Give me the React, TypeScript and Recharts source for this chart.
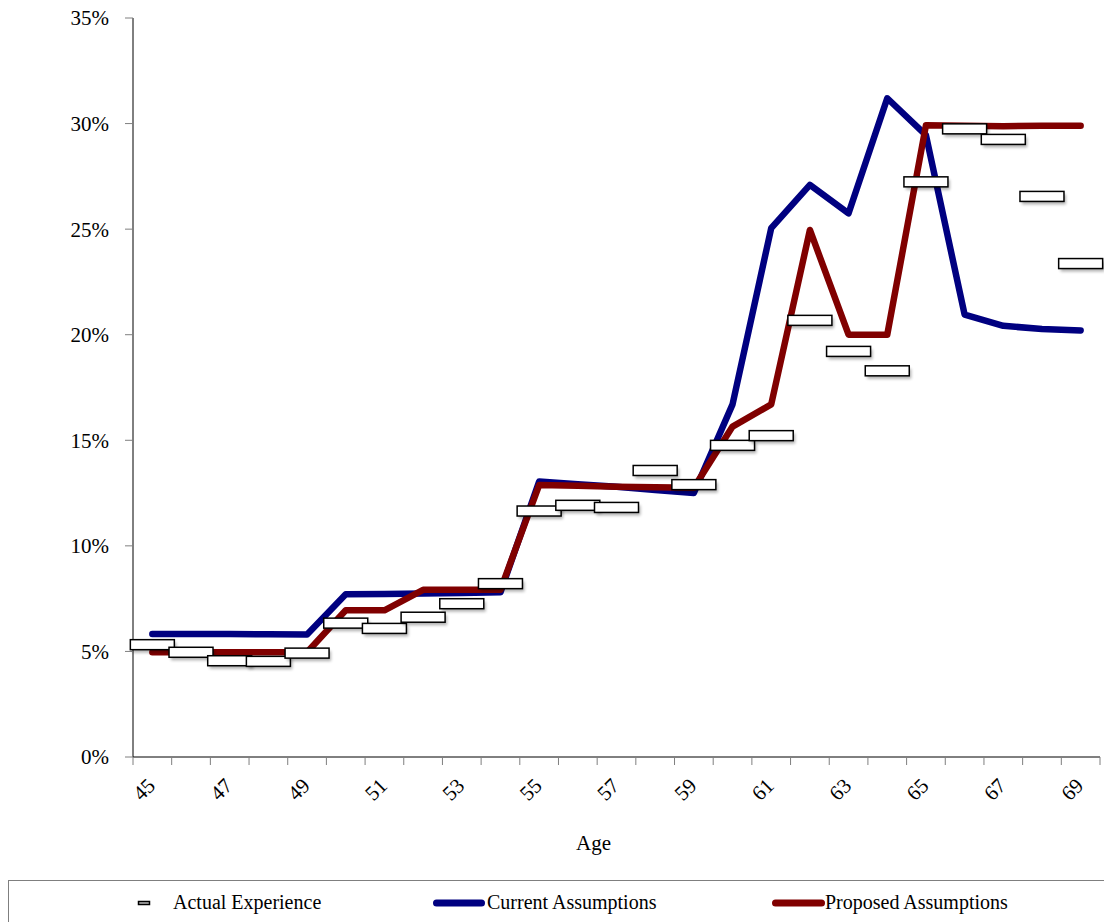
import React from 'react';
import { ComposedChart, Line, XAxis, YAxis, Legend } from 'recharts';

// ---- Data (percent values) ----
const AGES = [45, 46, 47, 48, 49, 50, 51, 52, 53, 54, 55, 56, 57, 58, 59, 60, 61, 62, 63, 64, 65, 66, 67, 68, 69];

const ACTUAL_EXPERIENCE = [
  5.32, 4.96, 4.56, 4.53, 4.92, 6.34, 6.09, 6.62, 7.26, 8.21, 11.65, 11.92, 11.82,
  13.57, 12.9, 14.76, 15.22, 20.68, 19.21, 18.29, 27.24, 29.75, 29.25, 26.55, 23.37,
];

const CURRENT_ASSUMPTIONS = [
  5.82, 5.82, 5.82, 5.81, 5.8, 7.71, 7.72, 7.74, 7.77, 7.8, 13.05, 12.92, 12.8,
  12.65, 12.5, 16.7, 25.05, 27.1, 25.75, 31.2, 29.45, 20.95, 20.42, 20.27, 20.2,
];

const PROPOSED_ASSUMPTIONS = [
  4.96, 4.96, 4.96, 4.96, 4.96, 6.95, 6.95, 7.92, 7.92, 7.92, 12.88, 12.85, 12.8,
  12.78, 12.75, 15.65, 16.7, 24.96, 20.0, 20.0, 29.92, 29.9, 29.87, 29.9, 29.9,
];

const AGE_TICK_LABELS = [45, 47, 49, 51, 53, 55, 57, 59, 61, 63, 65, 67, 69];
const Y_TICKS = [0, 5, 10, 15, 20, 25, 30, 35];
const SERIES_NAMES = ['Actual Experience', 'Current Assumptions', 'Proposed Assumptions'];
const SERIES_COLORS = ['#000000', '#000080', '#800000'];

const data = AGES.map((age, i) => ({
  age,
  actual: ACTUAL_EXPERIENCE[i],
  current: CURRENT_ASSUMPTIONS[i],
  proposed: PROPOSED_ASSUMPTIONS[i],
}));

// category boundaries (tick marks sit between ages, labels at the age centres)
const AGE_BOUNDARIES = [...AGES.map((a) => a - 0.5), AGES[AGES.length - 1] + 0.5];
const X_TICKS = [...AGE_BOUNDARIES, ...AGE_TICK_LABELS].sort((a, b) => a - b);

const FONT = '"Liberation Serif", "Times New Roman", serif';

const AgeTick = (props: any) => {
  const { x, y, payload } = props;
  const v = payload.value;
  if (!Number.isInteger(v)) {
    return <line x1={x} y1={y} x2={x} y2={y + 8} stroke="#7f7f7f" strokeWidth={1} />;
  }
  const tx = x + 4;
  const ty = y + 30;
  return (
    <text
      x={tx}
      y={ty}
      textAnchor="end"
      transform={`rotate(-45 ${tx} ${ty})`}
      fontSize={21}
      fontFamily={FONT}
      fill="#000"
    >
      {v}
    </text>
  );
};

const ExperienceMarker = (props: any) => {
  const { cx, cy, index } = props;
  if (cx == null || cy == null) return <g key={`m-${index}`} />;
  return (
    <g key={`m-${index}`}>
      <rect x={cx - 20} y={cy - 2} width={44} height={10} fill="#000" opacity={0.3} filter="url(#markerShadow)" />
      <rect x={cx - 22} y={cy - 5} width={44} height={10} fill="#fff" stroke="#000" strokeWidth={1.5} />
    </g>
  );
};

const LegendBox = () => (
  <svg width={1096} height={42} style={{ display: 'block' }}>
    <rect x={0.5} y={0.5} width={2000} height={200} fill="#fff" stroke="#7f7f7f" strokeWidth={1} />
    <rect x={130.5} y={21.5} width={11} height={3} fill="#bbb" stroke={SERIES_COLORS[0]} strokeWidth={1.5} />
    <text x={165} y={29} fontSize={20} fontFamily={FONT} fill="#000">{SERIES_NAMES[0]}</text>
    <line x1={428.5} y1={23} x2={473.5} y2={23} stroke={SERIES_COLORS[1]} strokeWidth={7} strokeLinecap="round" />
    <text x={479} y={29} fontSize={20} fontFamily={FONT} fill="#000">{SERIES_NAMES[1]}</text>
    <line x1={767.5} y1={23} x2={813.5} y2={23} stroke={SERIES_COLORS[2]} strokeWidth={7} strokeLinecap="round" />
    <text x={817} y={29} fontSize={20} fontFamily={FONT} fill="#000">{SERIES_NAMES[2]}</text>
  </svg>
);

export default function App() {
  return (
    <div
      style={{
        position: 'fixed',
        left: 0,
        top: 0,
        width: 1104,
        height: 922,
        overflow: 'hidden',
        background: '#fff',
      }}
    >
      <ComposedChart
        width={1104}
        height={922}
        data={data}
        margin={{ top: 18, right: 4, bottom: 65, left: 0 }}
        style={{ fontFamily: FONT }}
      >
        <defs>
          <filter id="markerShadow" x="-20%" y="-50%" width="140%" height="200%">
            <feGaussianBlur stdDeviation="1.5" />
          </filter>
        </defs>
        <XAxis
          dataKey="age"
          type="number"
          domain={[44.5, 69.5]}
          ticks={X_TICKS}
          interval={0}
          tickSize={0}
          tickMargin={0}
          tickLine={false}
          axisLine={{ stroke: '#000', strokeWidth: 1 }}
          tick={(p: any) => <AgeTick {...p} />}
          height={100}
          label={{
            value: 'Age',
            position: 'insideBottom',
            offset: 7,
            dx: -23,
            fontSize: 21,
            fontFamily: FONT,
            fill: '#000',
          }}
        />
        <YAxis
          type="number"
          domain={[0, 35]}
          ticks={Y_TICKS}
          interval={0}
          width={133}
          tickSize={8}
          tickMargin={16}
          tickFormatter={(v: number) => `${v}%`}
          axisLine={{ stroke: '#000', strokeWidth: 1 }}
          tickLine={{ stroke: '#7f7f7f', strokeWidth: 1 }}
          tick={{ fontSize: 21, fill: '#000', fontFamily: FONT }}
        />
        <Line
          dataKey="actual"
          name={SERIES_NAMES[0]}
          stroke="none"
          dot={(p: any) => <ExperienceMarker key={`m-${p.index}`} {...p} />}
          activeDot={false}
          isAnimationActive={false}
        />
        <Line
          dataKey="current"
          name={SERIES_NAMES[1]}
          type="linear"
          stroke={SERIES_COLORS[1]}
          strokeWidth={6.5}
          strokeLinecap="round"
          strokeLinejoin="round"
          dot={false}
          activeDot={false}
          isAnimationActive={false}
        />
        <Line
          dataKey="proposed"
          name={SERIES_NAMES[2]}
          type="linear"
          stroke={SERIES_COLORS[2]}
          strokeWidth={6.5}
          strokeLinecap="round"
          strokeLinejoin="round"
          dot={false}
          activeDot={false}
          isAnimationActive={false}
        />
        <Legend
          layout="horizontal"
          verticalAlign="middle"
          align="center"
          wrapperStyle={{ left: 8, top: 880, width: 1096, height: 42 }}
          content={() => <LegendBox />}
        />
      </ComposedChart>
    </div>
  );
}
